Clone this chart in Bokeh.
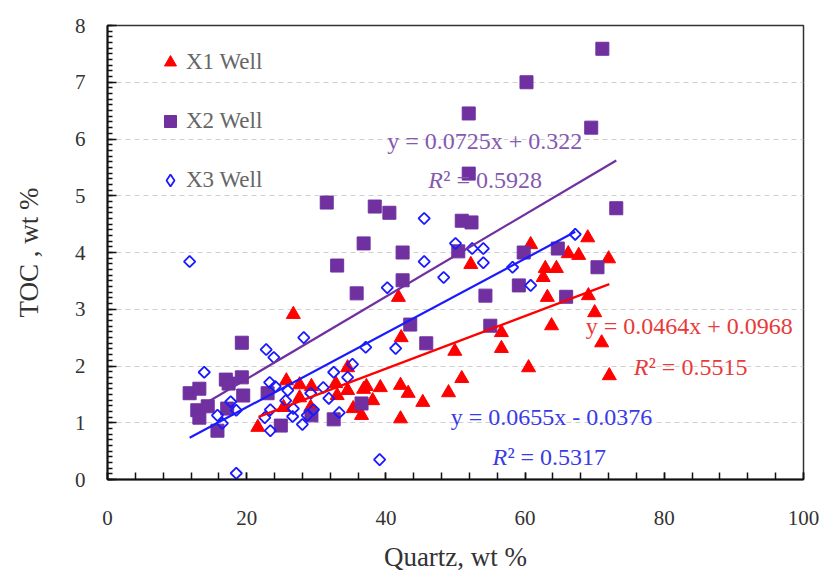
import numpy as np
from bokeh.plotting import figure
from bokeh.models import (Range1d, SingleIntervalTicker, Legend, LegendItem, Label)
from bokeh.embed import file_html
from bokeh.resources import INLINE

# --- data: quartz content vs TOC for three wells ---
x1_quartz = [21.6, 25.7, 26.7, 27.6, 27.6, 25.3, 29.3, 29.2, 32.8, 33.0, 34.5, 34.5, 35.3, 36.5, 36.8,
             37.2, 38.1, 39.2, 41.8, 42.2, 42.1, 42.1, 43.2, 45.3, 49.0, 49.9, 50.9, 52.2, 56.6, 56.6,
             60.5, 60.8, 62.6, 62.9, 63.2, 63.8, 64.5, 66.2, 67.7, 69.0, 69.1, 70.0, 71.0, 72.0, 72.1]
x1_toc = [0.92, 1.74, 2.91, 1.67, 1.44, 1.27, 1.64, 1.27, 1.69, 1.48, 1.97, 1.57, 1.25, 1.13, 1.59,
          1.64, 1.39, 1.62, 3.21, 2.50, 1.66, 1.07, 1.52, 1.36, 1.53, 2.26, 1.78, 3.79, 2.59, 2.31,
          1.97, 4.14, 3.56, 3.72, 3.21, 2.71, 3.72, 3.98, 3.95, 4.26, 3.24, 2.94, 2.41, 3.89, 1.83]

x2_quartz = [71.1, 60.2, 51.9, 69.5, 51.9, 50.9, 52.3, 73.1, 50.4, 59.8, 64.7, 70.4, 42.4, 54.3, 59.1,
             65.9, 55.0, 31.5, 38.4, 40.5, 36.8, 33.0, 42.4, 35.8, 43.5, 45.8, 36.5, 32.5, 29.3, 19.3,
             11.8, 13.2, 12.9, 13.2, 14.4, 15.8, 17.0, 17.4, 17.2, 19.3, 19.5, 23.0, 24.9]
x2_toc = [7.59, 7.00, 6.45, 6.20, 5.39, 4.56, 4.53, 4.78, 4.02, 4.00, 4.07, 3.74, 4.00, 3.24, 3.42,
          3.22, 2.71, 4.88, 4.81, 4.70, 4.16, 3.77, 3.51, 3.28, 2.73, 2.40, 1.34, 1.06, 1.13, 2.41,
          1.52, 1.60, 1.22, 1.09, 1.29, 0.86, 1.76, 1.69, 1.25, 1.80, 1.48, 1.52, 0.95]

x3_quartz = [11.8, 13.9, 15.8, 16.5, 17.7, 18.5, 18.5, 22.6, 22.8, 23.3, 23.4, 23.9, 24.1, 25.6, 25.9,
             26.6, 26.7, 28.0, 28.2, 28.7, 29.2, 29.6, 31.0, 31.8, 32.5, 33.3, 34.5, 35.2, 37.1, 39.1,
             40.2, 41.4, 45.5, 45.5, 48.3, 50.0, 52.4, 54.0, 54.0, 58.2, 60.8, 67.2, 23.4]
x3_toc = [3.84, 1.89, 1.13, 0.99, 1.37, 1.22, 0.11, 1.09, 2.29, 1.71, 0.86, 2.15, 1.64, 1.39, 1.57,
          1.11, 1.25, 0.97, 2.50, 1.13, 1.52, 1.23, 1.62, 1.43, 1.89, 1.18, 1.80, 2.03, 2.33, 0.35,
          3.38, 2.31, 3.84, 4.60, 3.56, 4.16, 4.07, 4.07, 3.82, 3.74, 3.42, 4.32, 1.23]

well_names = ["X1 Well", "X2 Well", "X3 Well"]

# linear fits (slope, intercept, R^2) and the quartz span each fit covers
fit_slope = [0.0464, 0.0725, 0.0655]
fit_intercept = [0.0968, 0.322, -0.0376]
fit_r2 = ["0.5515", "0.5928", "0.5317"]
fit_x_start = [21.7, 14.4, 11.8]
fit_x_end = [72.1, 73.1, 67.2]

RED = "#ff0000"
PURPLE = "#7030a0"
BLUE = "#1a1aff"
FONT = "Liberation Serif"

p = figure(width=820, height=574, output_backend="svg", toolbar_location=None,
           x_range=Range1d(0, 100), y_range=Range1d(0, 8),
           min_border_left=107, min_border_right=17, min_border_top=25, min_border_bottom=95)
p.background_fill_color = "white"
p.border_fill_color = "white"
p.outline_line_color = "#333333"
p.outline_line_width = 1.5

# grid: dashed horizontal lines only
p.xgrid.visible = False
p.ygrid.grid_line_color = "#cfcfcf"
p.ygrid.grid_line_dash = "5 4"
p.ygrid.grid_line_width = 1.2

p.xaxis.ticker = SingleIntervalTicker(interval=20, num_minor_ticks=5)
p.yaxis.ticker = SingleIntervalTicker(interval=1, num_minor_ticks=10)

for ax in (p.xaxis, p.yaxis):
    ax.axis_line_width = 2
    ax.axis_line_color = "#111111"
    ax.major_tick_out = 0
    ax.minor_tick_out = 0
    ax.major_tick_line_width = 1.5
    ax.minor_tick_line_width = 1.5
    ax.major_tick_line_color = "#111111"
    ax.minor_tick_line_color = "#111111"
    ax.major_label_text_font = FONT
    ax.major_label_text_font_size = "21px"
    ax.major_label_text_color = "#333333"
    ax.axis_label_text_font = FONT
    ax.axis_label_text_font_size = "27px"
    ax.axis_label_text_font_style = "normal"
    ax.axis_label_text_color = "#333333"

p.xaxis.major_tick_in = 7
p.xaxis.minor_tick_in = 7
p.yaxis.major_tick_in = 9
p.yaxis.minor_tick_in = 5
p.xaxis.major_label_standoff = 31
p.yaxis.major_label_standoff = 22
p.xaxis.axis_label = "Quartz, wt %"
p.yaxis.axis_label = "TOC , wt %"
p.xaxis.axis_label_standoff = 14
p.yaxis.axis_label_standoff = 28

# scatter points
r1 = p.scatter(x1_quartz, x1_toc, marker="triangle", size=14, fill_color=RED, line_color=RED)
r2 = p.scatter(x2_quartz, x2_toc, marker="square", size=13, fill_color=PURPLE, line_color=PURPLE)
r3 = p.scatter(x3_quartz, x3_toc, marker="square", angle=np.pi / 4, size=8,
               fill_color=None, line_color=BLUE, line_width=1.8)
# legend swatch for the hollow diamonds (legend glyphs ignore marker rotation)
r3_key = p.scatter(x=[np.nan], y=[np.nan], marker="diamond", size=14,
                   fill_color=None, line_color=BLUE, line_width=1.8)

# regression lines drawn from their equations
line_colors = [RED, PURPLE, BLUE]
for k in (1, 2, 0):
    xs = np.array([fit_x_start[k], fit_x_end[k]])
    ys = fit_slope[k] * xs + fit_intercept[k]
    p.line(xs, ys, line_color=line_colors[k], line_width=2.2)


def eq_text(k):
    b = fit_intercept[k]
    sign = "+" if b >= 0 else "-"
    return f"y = {fit_slope[k]:g}x {sign} {abs(b):g}"


# equation labels: (position of equation, position of R^2, colour)
label_specs = [
    ((68.7, 2.70), (75.6, 1.99), "#e83a3a"),
    ((40.2, 5.97), (46.1, 5.27), "#8459b0"),
    ((49.3, 1.11), (55.3, 0.39), "#3a3ae6"),
]
for k, (eq_pos, r2_pos, col) in enumerate(label_specs):
    p.add_layout(Label(x=eq_pos[0], y=eq_pos[1], text=eq_text(k), text_font=FONT,
                       text_font_size="24px", text_color=col, text_baseline="middle"))
    p.add_layout(Label(x=r2_pos[0], y=r2_pos[1], text="R", text_font=FONT,
                       text_font_style="italic", text_font_size="24px", text_color=col,
                       text_baseline="middle"))
    p.add_layout(Label(x=r2_pos[0], y=r2_pos[1], x_offset=15, text="\u00b2 = " + fit_r2[k],
                       text_font=FONT, text_font_size="24px", text_color=col,
                       text_baseline="middle"))

legend = Legend(items=[LegendItem(label=well_names[0], renderers=[r1]),
                       LegendItem(label=well_names[1], renderers=[r2]),
                       LegendItem(label=well_names[2], renderers=[r3_key])],
                location=(48, 284))
legend.background_fill_alpha = 0
legend.border_line_alpha = 0
legend.label_text_font = FONT
legend.label_text_font_size = "23px"
legend.label_text_color = "#666666"
legend.glyph_width = 30
legend.glyph_height = 30
legend.label_height = 20
legend.spacing = 29
legend.padding = 0
legend.margin = 0
legend.label_standoff = 1
p.add_layout(legend)

open("out.html", "w").write(file_html(p, INLINE))
